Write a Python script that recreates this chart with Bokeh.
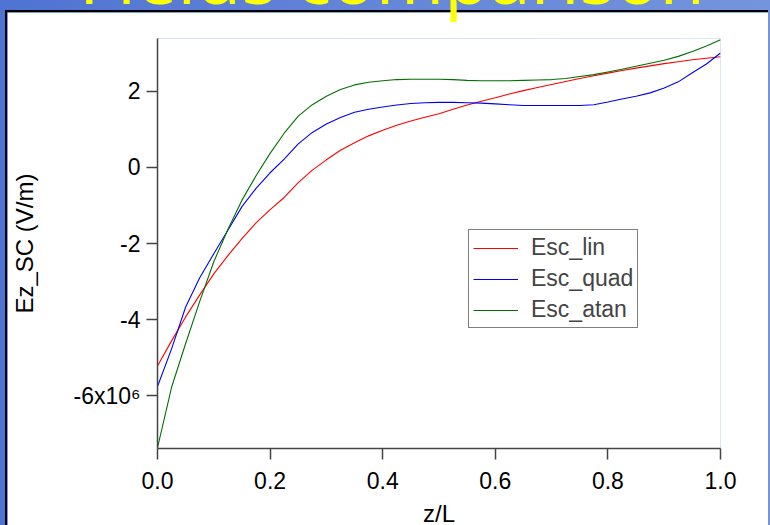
from bokeh.plotting import figure
from bokeh.models import Range1d, Div, FixedTicker, Column, Legend, LegendItem
from bokeh.embed import file_html
from bokeh.resources import INLINE

# ---- data (values in units of 1e6 V/m) ----
z = [0.0, 0.025, 0.05, 0.075, 0.1, 0.125, 0.15, 0.175, 0.2, 0.225, 0.25, 0.275, 0.3,
     0.325, 0.35, 0.375, 0.4, 0.425, 0.45, 0.475, 0.5, 0.525, 0.55, 0.575, 0.6, 0.625,
     0.65, 0.675, 0.7, 0.725, 0.75, 0.775, 0.8, 0.825, 0.85, 0.875, 0.9, 0.925, 0.95,
     0.975, 1.0]
esc_lin = [-5.22, -4.56, -3.93, -3.35, -2.80, -2.32, -1.87, -1.46, -1.11, -0.79, -0.40,
           -0.07, 0.20, 0.45, 0.65, 0.83, 0.98, 1.11, 1.22, 1.32, 1.41, 1.53, 1.64, 1.74,
           1.83, 1.93, 2.02, 2.10, 2.18, 2.26, 2.34, 2.41, 2.48, 2.55, 2.61, 2.67, 2.73,
           2.78, 2.83, 2.87, 2.91]
esc_quad = [-5.76, -4.77, -3.67, -2.90, -2.27, -1.65, -1.03, -0.55, -0.14, 0.22, 0.62,
            0.92, 1.14, 1.31, 1.45, 1.53, 1.59, 1.64, 1.68, 1.70, 1.71, 1.71, 1.70, 1.69,
            1.67, 1.65, 1.63, 1.63, 1.63, 1.63, 1.63, 1.65, 1.72, 1.80, 1.87, 1.96, 2.09,
            2.25, 2.49, 2.72, 3.01]
esc_atan = [-7.37, -5.78, -4.63, -3.52, -2.48, -1.63, -0.86, -0.22, 0.37, 0.90, 1.35,
            1.65, 1.87, 2.05, 2.17, 2.24, 2.28, 2.31, 2.32, 2.32, 2.32, 2.31, 2.29, 2.28,
            2.28, 2.28, 2.29, 2.30, 2.31, 2.34, 2.39, 2.44, 2.51, 2.58, 2.66, 2.74, 2.82,
            2.92, 3.05, 3.19, 3.36]
series_names = ["Esc_lin", "Esc_quad", "Esc_atan"]
series_colors = ["#ff0000", "#0000ee", "#007000"]
y_ticks = [-6e6, -4e6, -2e6, 0, 2e6]
y_tick_labels = ["-6x10\u2076", "-4", "-2", "0", "2"]
x_ticks = [0.0, 0.2, 0.4, 0.6, 0.8, 1.0]
x_tick_labels = ["0.0", "0.2", "0.4", "0.6", "0.8", "1.0"]
scale = 1e6

FONT = "Liberation Sans"

p = figure(width=763, height=517, output_backend="svg", toolbar_location=None,
           x_range=Range1d(0, 1.0), y_range=Range1d(-7.39e6, 3.39e6),
           min_border_left=150, min_border_right=50, min_border_top=26, min_border_bottom=60,
           background_fill_color="white", border_fill_color="white",
           outline_line_color=None)
p.styles = {"border-left": "2px solid black", "border-top": "2px solid black"}
p.margin = (10, 0, 0, 5)
p.grid.visible = False

items = []
for name, vals, col in zip(series_names, [esc_lin, esc_quad, esc_atan], series_colors):
    r = p.line(z, [v * scale for v in vals], line_color=col, line_width=1.1)
    items.append(LegendItem(label=name, renderers=[r], index=0))

for ax in (p.xaxis[0], p.yaxis[0]):
    ax.axis_line_color = "#444444"
    ax.axis_line_width = 1.5
    ax.major_tick_line_color = "#444444"
    ax.major_tick_line_width = 1.5
    ax.major_tick_out = 11
    ax.major_tick_in = 0
    ax.minor_tick_line_color = None
    ax.major_label_text_font = FONT
    ax.major_label_text_font_size = "23px"
    ax.major_label_text_color = "black"
    ax.axis_label_text_font = FONT
    ax.axis_label_text_font_size = "24px"
    ax.axis_label_text_font_style = "normal"
    ax.axis_label_text_color = "black"

p.xaxis.ticker = FixedTicker(ticks=x_ticks)
p.xaxis.major_label_overrides = dict(zip(x_ticks, x_tick_labels))
p.xaxis.axis_label = "z/L"
p.xaxis.major_label_standoff = 12
p.xaxis.axis_label_standoff = 8

p.yaxis.ticker = FixedTicker(ticks=y_ticks)
p.yaxis.major_label_overrides = dict(zip(y_ticks, y_tick_labels))
p.yaxis.axis_label = "Ez_SC (V/m)"
p.yaxis.major_label_standoff = 6
p.yaxis.axis_label_standoff = 32

lg = Legend(items=items, location=(311, 120), border_line_color="black",
            border_line_width=1, label_text_font=FONT, label_text_font_size="23px",
            glyph_width=45, glyph_height=24, label_height=24, label_standoff=13,
            spacing=4, padding=4, margin=0, background_fill_alpha=1.0)
p.add_layout(lg, "center")

title = Div(text="Fields comparison", width=700, height=70,
            styles={"position": "absolute", "left": "74px", "top": "-64px",
                    "color": "#ffff00", "font-size": "74px", "font-family": "Open Sans",
                    "white-space": "nowrap", "z-index": "10", "line-height": "70px"})

layout = Column(children=[p, title], width=770, height=525,
                styles={"background": "linear-gradient(90deg, #4f73d2 0%, #6585d8 50%, #7494dd 100%)",
                        "overflow": "hidden"})

open("out.html", "w").write(file_html(layout, INLINE))
